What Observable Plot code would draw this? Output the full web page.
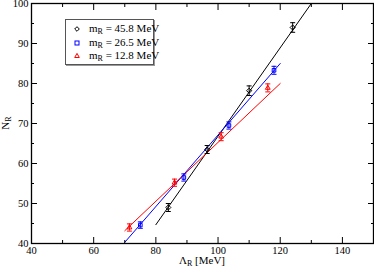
<!DOCTYPE html>
<html><head><meta charset="utf-8">
<script src="https://cdn.jsdelivr.net/npm/d3@7"></script>
<script src="https://cdn.jsdelivr.net/npm/@observablehq/plot@0.6"></script>
<style>
body{margin:0;background:#fff;}
#wrap{position:relative;width:374px;height:267px;font-family:"Liberation Serif",serif;}
#legend{position:absolute;left:65px;top:19px;width:87px;height:44px;border:1px solid #555;box-shadow:1px 1px 0 #999;background:#fff;font-size:11px;}
#legend .row{position:absolute;left:0;height:13px;line-height:13px;}
#legend .row span{position:absolute;left:23px;white-space:nowrap;}
#legend svg{position:absolute;left:6px;top:2px;}
sub{font-size:8px;vertical-align:-2px;line-height:0;}
#xlab{position:absolute;left:0;width:404px;text-align:center;top:255px;font-size:11px;line-height:11px;}
#ylab{position:absolute;left:-2px;top:117px;font-size:11px;transform:rotate(-90deg);}
</style></head>
<body><div id="wrap"><div id="chart"></div>
<div id="legend"></div>
<div id="xlab">Λ<sub>R</sub> [MeV]</div>
<div id="ylab">N<sub>R</sub></div>
</div>
<script>
const seriesNames = ["45.8", "26.5", "12.8"];
const colors = ["#000000", "#0000ff", "#ff0000"];
const symbols = ["diamond2", "square2", "triangle2"];
const lambda45 = [84, 96.5, 110, 124];
const n45 = [49, 63.5, 78.2, 94];
const err45 = [1.0, 1.0, 1.2, 1.2];
const lambda26 = [75, 89, 103.5, 118];
const n26 = [44.6, 56.5, 69.5, 83.3];
const err26 = [0.8, 0.9, 0.9, 1.0];
const lambda12 = [71.5, 86, 101, 116];
const n12 = [44, 55.2, 66.7, 78.9];
const err12 = [0.9, 0.9, 1.0, 1.0];
const fitX = [[80, 130], [70, 120], [70, 120]];
const fitY = [[44.7, 100], [40.3, 85], [43.2, 80]];
const xTicks = [40, 60, 80, 100, 120, 140];
const xMinor = [50, 70, 90, 110, 130, 150];
const yTicks = [40, 50, 60, 70, 80, 90, 100];
const yMinor = [45, 55, 65, 75, 85, 95];

const lam = [lambda45, lambda26, lambda12];
const nr = [n45, n26, n12];
const er = [err45, err26, err12];
const pts = [];
lam.forEach((xs, s) => xs.forEach((x, i) => pts.push({s, x, y: nr[s][i], e: er[s][i]})));
const fits = [];
fitX.forEach((xs, s) => xs.forEach((x, i) => fits.push({s, x, y: fitY[s][i]})));

const cap = {draw(ctx, size) { ctx.moveTo(-2.5, 0); ctx.lineTo(2.5, 0); }};
const col = d => colors[d.s];

const tickStyle = {fontFamily: "Liberation Serif", fontSize: 10.5};
const plot = Plot.plot({
  width: 374, height: 267,
  marginLeft: 31, marginRight: 1, marginTop: 3, marginBottom: 24,
  x: {domain: [40, 150]},
  y: {domain: [40, 100]},
  style: {fontFamily: "Liberation Serif", fontSize: "10.5px", color: "#000"},
  marks: [
    Plot.line(fits, {x: "x", y: "y", z: "s", stroke: col, strokeWidth: 1}),
    Plot.ruleX(pts, {x: "x", y1: d => d.y - d.e, y2: d => d.y + d.e, stroke: col, strokeWidth: 1}),
    Plot.dot(pts, {x: "x", y: d => d.y - d.e, symbol: cap, stroke: col, strokeWidth: 1}),
    Plot.dot(pts, {x: "x", y: d => d.y + d.e, symbol: cap, stroke: col, strokeWidth: 1}),
    Plot.dot(pts, {x: "x", y: "y", symbol: d => symbols[d.s], stroke: col, r: 2.3, strokeWidth: 1}),
    Plot.axisX({ticks: xTicks, tickSize: 0, tickPadding: 3, label: null, ...tickStyle}),
    Plot.axisY({ticks: yTicks, tickSize: 0, tickPadding: 3, label: null, ...tickStyle}),
    Plot.axisX({anchor: "bottom", ticks: xTicks, tickSize: -6, text: null, label: null}),
    Plot.axisX({anchor: "bottom", ticks: xMinor, tickSize: -3, text: null, label: null}),
    Plot.axisX({anchor: "top", ticks: xTicks, tickSize: -6, text: null, label: null}),
    Plot.axisX({anchor: "top", ticks: xMinor, tickSize: -3, text: null, label: null}),
    Plot.axisY({anchor: "left", ticks: yTicks, tickSize: -6, text: null, label: null}),
    Plot.axisY({anchor: "left", ticks: yMinor, tickSize: -3, text: null, label: null}),
    Plot.axisY({anchor: "right", ticks: yTicks, tickSize: -6, text: null, label: null}),
    Plot.axisY({anchor: "right", ticks: yMinor, tickSize: -3, text: null, label: null}),
    Plot.frame({stroke: "#000", strokeWidth: 1.3})
  ]
});
document.getElementById("chart").appendChild(plot);

const leg = document.getElementById("legend");
const legSym = [
  '<path d="M0,-2.3L2.3,0L0,2.3L-2.3,0Z"/>',
  '<rect x="-2" y="-2" width="4" height="4"/>',
  '<path d="M0,-2.6L2.3,1.5L-2.3,1.5Z"/>'
];
seriesNames.forEach((n, s) => {
  const row = document.createElement("div");
  row.className = "row";
  row.style.top = (2 + s * 13.5) + "px";
  row.innerHTML = `<svg width="10" height="10" viewBox="-5 -5 10 10"><g fill="none" stroke="${colors[s]}" stroke-width="1">${legSym[s]}</g></svg><span>m<sub>R</sub> = ${n} MeV</span>`;
  leg.appendChild(row);
});
</script></body></html>
